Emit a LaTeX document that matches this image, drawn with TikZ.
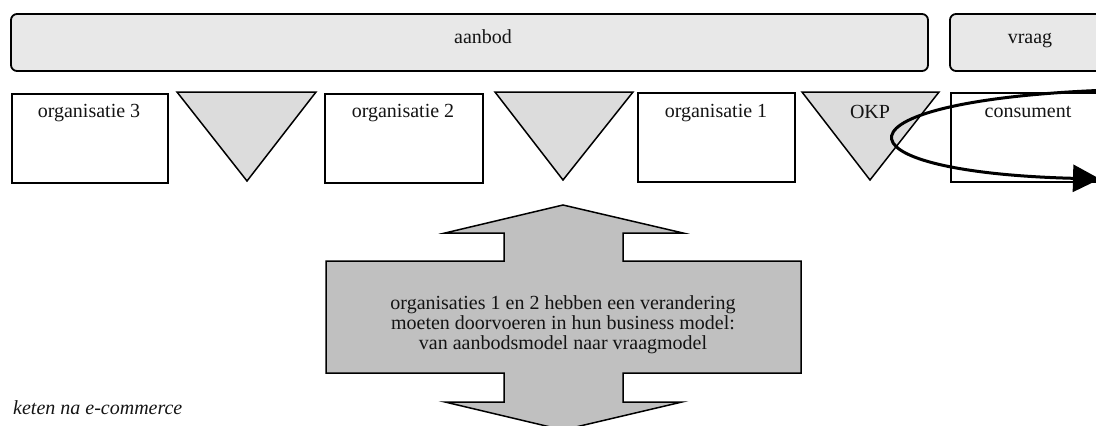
\documentclass[tikz,border=0pt]{standalone}
\usepackage{fontspec}
\setmainfont{Liberation Serif}
\usetikzlibrary{arrows.meta}
\definecolor{barfill}{HTML}{E8E8E8}
\definecolor{trifill}{HTML}{DCDCDC}
\definecolor{arrowfill}{HTML}{C0C0C0}
\definecolor{ink}{HTML}{141414}
\begin{document}
\begin{tikzpicture}[x=1pt,y=-1pt,
  every node/.style={font=\fontsize{20}{20}\selectfont, text=ink, inner sep=0pt},
  bar/.style={draw=black, fill=barfill, line width=1.8pt, rounded corners=6pt},
  orgbox/.style={draw=black, fill=white, line width=1.5pt},
  funnel/.style={draw=black, fill=trifill, line width=1.5pt, line join=miter},
  lbl/.style={anchor=base},
  bigarrow/.style={draw=black, fill=arrowfill, line width=1.5pt, line join=miter},
  flow/.style={draw=black, line width=3pt, -{Triangle[length=27pt,width=27pt]}}
]
\useasboundingbox (0,0) rectangle (1096,426);
\clip (0,0) rectangle (1096,426);

% top row: supply and demand
\draw[bar] (11,14) rectangle (928,71);
\node[lbl] (aanbod) at (483,43) {aanbod};
\draw[bar] (950,14) rectangle (1112,71);
\node[lbl] (vraag) at (1030,43) {vraag};

% chain of organisations
\node[orgbox, minimum width=156pt, minimum height=89pt, anchor=north west] (o3) at (11,93) {};
\node[lbl] at (89,117) {organisatie 3};
\node[orgbox, minimum width=158pt, minimum height=89pt, anchor=north west] (o2) at (324,93) {};
\node[lbl] at (403,117) {organisatie 2};
\node[orgbox, minimum width=157pt, minimum height=89pt, anchor=north west] (o1) at (637,92) {};
\node[lbl] at (716,117) {organisatie 1};
\node[orgbox, minimum width=160pt, minimum height=89pt, anchor=north west] (cons) at (950,92) {};
\node[lbl] at (1028,117) {consument};

% intermediaries between the organisations
\draw[funnel] (177,92) -- (316,92) -- (247,181) -- cycle;
\draw[funnel] (495,92) -- (633,92) -- (563,180) -- cycle;
\draw[funnel] (802,92) -- (939,92) -- (870,180) -- cycle;
\node[lbl] (okp) at (870,118) {OKP};

% loop from the consumer back through the OKP
\coordinate (loopstart) at (1110,90);
\coordinate (loopend) at (1100,179);
\draw[flow] (loopstart) .. controls (825,100) and (825,172) .. (loopend);

% double arrow with the change of business model
\draw[bigarrow] (563,205) -- (683,233) -- (623,233) -- (623,261) -- (801,261)
  -- (801,373) -- (623,373) -- (623,402) -- (682,402) -- (563,430)
  -- (445,402) -- (504,402) -- (504,373) -- (326,373) -- (326,261)
  -- (504,261) -- (504,233) -- (445,233) -- cycle;
\node[align=center] (change) at (563,325)
  {organisaties 1 en 2 hebben een verandering\\moeten doorvoeren in hun business model:\\van aanbodsmodel naar vraagmodel};

% caption
\node[anchor=base west, font=\fontsize{20}{20}\selectfont\itshape] (caption) at (13,414) {keten na e-commerce};
\end{tikzpicture}
\end{document}
